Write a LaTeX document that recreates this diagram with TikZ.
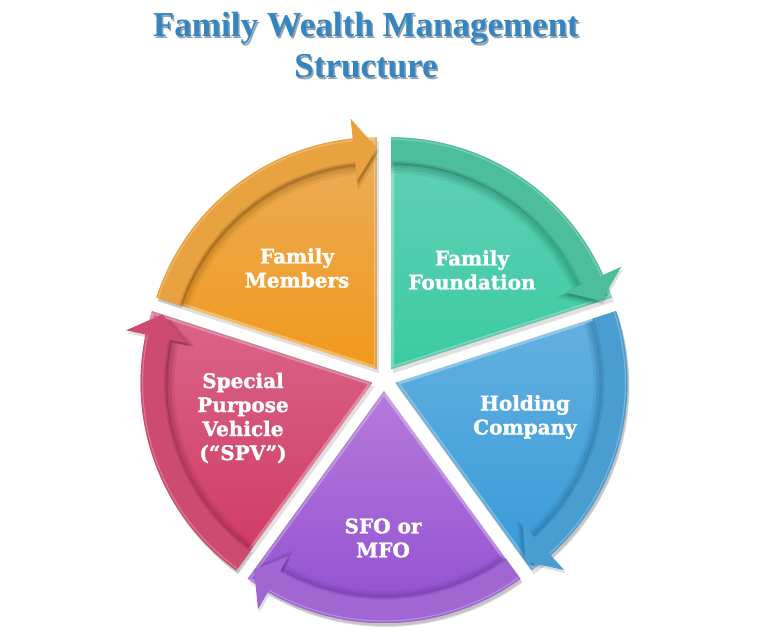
\documentclass[tikz,border=0pt]{standalone}
\usepackage{fontspec}
\setmainfont{Liberation Serif}
\newfontfamily\labfont{DejaVu Serif}[BoldFeatures={FakeBold=1.6}]
\usetikzlibrary{calc}
\definecolor{titleblue}{HTML}{3585C0}
\definecolor{oTop}{HTML}{EDAD5A}\definecolor{oBot}{HTML}{F0991C}\definecolor{oArr}{HTML}{E8A23F}\definecolor{oDk}{HTML}{9A5E10}
\definecolor{gTop}{HTML}{62D0B6}\definecolor{gBot}{HTML}{3BCAA2}\definecolor{gArr}{HTML}{4DBE9C}\definecolor{gDk}{HTML}{1E7A60}
\definecolor{bTop}{HTML}{64B1E0}\definecolor{bBot}{HTML}{379AD8}\definecolor{bArr}{HTML}{4A9DD0}\definecolor{bDk}{HTML}{1E5E8E}
\definecolor{pTop}{HTML}{B67ADB}\definecolor{pBot}{HTML}{8E4DD0}\definecolor{pArr}{HTML}{A066D2}\definecolor{pDk}{HTML}{5A2A8A}
\definecolor{rTop}{HTML}{DA6589}\definecolor{rBot}{HTML}{CF3961}\definecolor{rArr}{HTML}{CD4B70}\definecolor{rDk}{HTML}{7E1E3A}
\tikzset{
  lab/.style={text=white, align=center, font=\labfont\bfseries\fontsize{20}{24}\selectfont},
  ttl/.style={text=titleblue, font=\bfseries\fontsize{35}{41}\selectfont, anchor=base},
  ttlsh/.style={text=black!60!titleblue, font=\bfseries\fontsize{35}{41}\selectfont, anchor=base, opacity=.45},
}
% arrow outline, shrunk radially by #3
\newcommand\arrowpath[3]{%
  (#1:207-#3) -- (#1:232-#3) arc[start angle=#1, end angle=\seghb, radius=232-#3]
      -- (\seghb:252-#3) -- (#2:221-#3) -- (\seghb:190-#3) -- (\seghb:207-#3)
      arc[start angle=\seghb, end angle=#1, radius=207-#3] -- cycle}
% #1 start angle (high), #2 end angle (low), #3 top, #4 bottom, #5 arrow, #6 dark
\newcommand\pieseg[6]{%
  \pgfmathsetmacro\segmid{(#1+#2)/2}%
  \pgfmathsetmacro\segpx{384+12*cos(\segmid)}%
  \pgfmathsetmacro\segpy{264+12*sin(\segmid)}%
  \pgfmathsetmacro\seghb{#2+6}%
  \begin{scope}[shift={(\segpx,\segpy)}]
    % shadow
    \fill[black, opacity=.12] (2,-4) -- ++(#1:232) arc[start angle=#1, end angle=#2, radius=232] -- cycle;
    % body
    \path[top color=#3, bottom color=#4] (0,0) -- (#1:232) arc[start angle=#1, end angle=#2, radius=232] -- cycle;
    \begin{scope}
      \clip (0,0) -- (#1:232) arc[start angle=#1, end angle=#2, radius=232] -- cycle;
      \draw[white, opacity=.3, line width=6] (0,0) -- (#1:232) arc[start angle=#1, end angle=#2, radius=232] -- cycle;
      \draw[black, opacity=.1, line width=3] (0,0) -- (#2:232);
      \begin{scope}[yshift=-2]
        \fill[#6, opacity=.18] \arrowpath{#1}{#2}{3};
        \fill[#6, opacity=.18] \arrowpath{#1}{#2}{6};
        \fill[#6, opacity=.12] \arrowpath{#1}{#2}{9};
      \end{scope}
    \end{scope}
    % arrow shadow outside the body
    \fill[black, opacity=.13] [shift={(1.5,-3)}] \arrowpath{#1}{#2}{0};
    % arrow
    \fill[#5] \arrowpath{#1}{#2}{0};
    \draw[white, opacity=.25, line width=1.2] (#1:230) arc[start angle=#1, end angle=\seghb, radius=230];
    \draw[#6, opacity=.25, line width=1] (#1:208) arc[start angle=#1, end angle=\seghb, radius=208];
  \end{scope}%
}
\begin{document}
\begin{tikzpicture}[x=1pt,y=1pt]
\useasboundingbox (0,0) rectangle (768,643);
\fill[white] (0,0) rectangle (768,643);
% title
\node[ttlsh] (t1s) at (367.5,604.5) {Family Wealth Management};
\node[ttlsh] (t2s) at (367.5,563.5) {Structure};
\node[ttl] (t1) at (366,606) {Family Wealth Management};
\node[ttl] (t2) at (366,565) {Structure};
% segments
\pieseg{162}{90}{oTop}{oBot}{oArr}{oDk}
\pieseg{90}{18}{gTop}{gBot}{gArr}{gDk}
\pieseg{18}{-54}{bTop}{bBot}{bArr}{bDk}
\pieseg{-54}{-126}{pTop}{pBot}{pArr}{pDk}
\pieseg{-126}{-198}{rTop}{rBot}{rArr}{rDk}
% labels
\node[lab] (fm) at (297,375) {Family\\Members};
\node[lab] (ff) at (472,373) {Family\\Foundation};
\node[lab] (hc) at (525,226) {Holding\\Company};
\node[lab] (sfo) at (383,105) {SFO or\\MFO};
\node[lab] (spv) at (243,225) {Special\\Purpose\\Vehicle\\(“SPV”)};
\end{tikzpicture}
\end{document}
